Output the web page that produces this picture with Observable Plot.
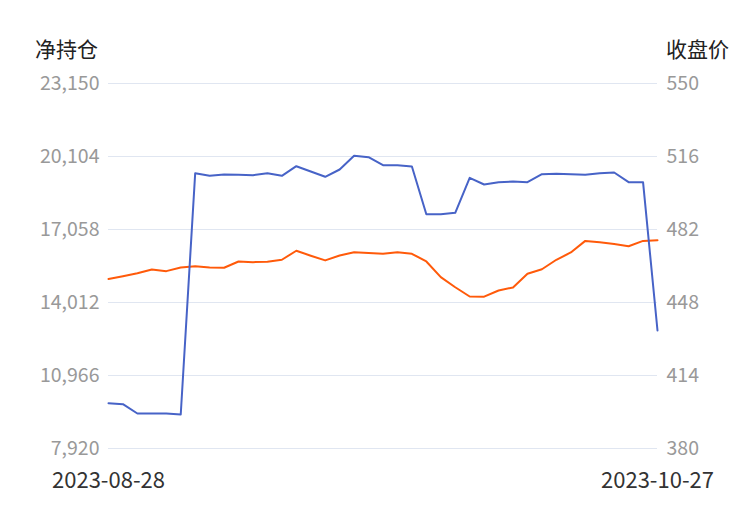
<!DOCTYPE html>
<html>
<head>
<meta charset="utf-8">
<script src="https://cdn.jsdelivr.net/npm/d3@7"></script>
<script src="https://cdn.jsdelivr.net/npm/@observablehq/plot@0.6"></script>
<style>
  html, body { margin: 0; padding: 0; background: #fff; }
  #wrap { position: relative; width: 750px; height: 510px; font-family: "Noto Sans CJK SC", "Noto Sans", sans-serif; }
  .title { position: absolute; top: 34px; font-size: 21px; color: #222; line-height: 28px; }
</style>
</head>
<body>
<div id="wrap">
  <div class="title" style="left:35px;">净持仓</div>
  <div class="title" style="left:666px;">收盘价</div>
</div>
<script>
const dates = [
  "2023-08-28","2023-08-29","2023-08-30","2023-08-31","2023-09-01",
  "2023-09-04","2023-09-05","2023-09-06","2023-09-07","2023-09-08",
  "2023-09-11","2023-09-12","2023-09-13","2023-09-14","2023-09-15",
  "2023-09-18","2023-09-19","2023-09-20","2023-09-21","2023-09-22",
  "2023-09-25","2023-09-26","2023-09-27","2023-09-28",
  "2023-10-09","2023-10-10","2023-10-11","2023-10-12","2023-10-13",
  "2023-10-16","2023-10-17","2023-10-18","2023-10-19","2023-10-20",
  "2023-10-23","2023-10-24","2023-10-25","2023-10-26","2023-10-27"
];
const netPosition = [
  9810, 9768, 9380, 9380, 9385, 9339, 19407, 19299, 19353, 19340,
  19324, 19407, 19299, 19699, 19478, 19257, 19562, 20133, 20075, 19741,
  19741, 19687, 17696, 17696, 17755, 19215, 18936, 19032, 19061, 19032,
  19366, 19382, 19366, 19340, 19407, 19436, 19032, 19032, 12844
];
const closePrice = [
  458.9, 460.2, 461.6, 463.4, 462.6, 464.3, 464.9, 464.3, 464.2, 467.1,
  466.8, 467.0, 467.9, 472.1, 469.8, 467.6, 469.9, 471.4, 471.1, 470.7,
  471.4, 470.7, 467.1, 459.8, 455.1, 450.8, 450.7, 453.6, 455.0, 461.4,
  463.5, 467.9, 471.3, 476.7, 476.1, 475.2, 474.2, 476.7, 477.0
];
const leftTicks = [7920, 10966, 14012, 17058, 20104, 23150];
const rightTicks = [380, 414, 448, 482, 516, 550];
const xTickIndex = [0, dates.length - 1];

const L0 = leftTicks[0], L1 = leftTicks[leftTicks.length - 1];
const R0 = rightTicks[0], R1 = rightTicks[rightTicks.length - 1];
const toLeft = v => L0 + (v - R0) * (L1 - L0) / (R1 - R0);
const toRight = v => R0 + (v - L0) * (R1 - R0) / (L1 - L0);

const net = dates.map((d, i) => ({i, date: d, v: netPosition[i]}));
const cls = dates.map((d, i) => ({i, date: d, v: toLeft(closePrice[i])}));

const chart = Plot.plot({
  width: 750,
  height: 510,
  marginLeft: 108,
  marginRight: 93,
  marginTop: 83,
  marginBottom: 62,
  style: {fontFamily: "'Noto Sans CJK SC', 'Noto Sans', sans-serif", background: "#fff"},
  x: {domain: [0, dates.length - 1]},
  y: {domain: [L0, L1]},
  marks: [
    Plot.gridY(leftTicks, {stroke: "#e0e6f1", strokeOpacity: 1, strokeWidth: 1}),
    Plot.axisY(leftTicks, {anchor: "left", tickSize: 0, tickPadding: 9, fontSize: 19.5, fill: "#999", label: null,
      tickFormat: d => d3.format(",")(d)}),
    Plot.axisY(rightTicks.map(toLeft), {anchor: "right", tickSize: 0, tickPadding: 9, fontSize: 19.5, fill: "#999", label: null,
      tickFormat: d => String(Math.round(toRight(d)))}),
    Plot.axisX(xTickIndex, {anchor: "bottom", tickSize: 0, tickPadding: 24, fontSize: 22, fill: "#333", label: null,
      tickFormat: i => dates[i]}),
    Plot.line(cls, {x: "i", y: "v", stroke: "#ff5a0a", strokeWidth: 2}),
    Plot.line(net, {x: "i", y: "v", stroke: "#4763c7", strokeWidth: 2})
  ]
});
document.getElementById("wrap").appendChild(chart);
</script>
</body>
</html>
